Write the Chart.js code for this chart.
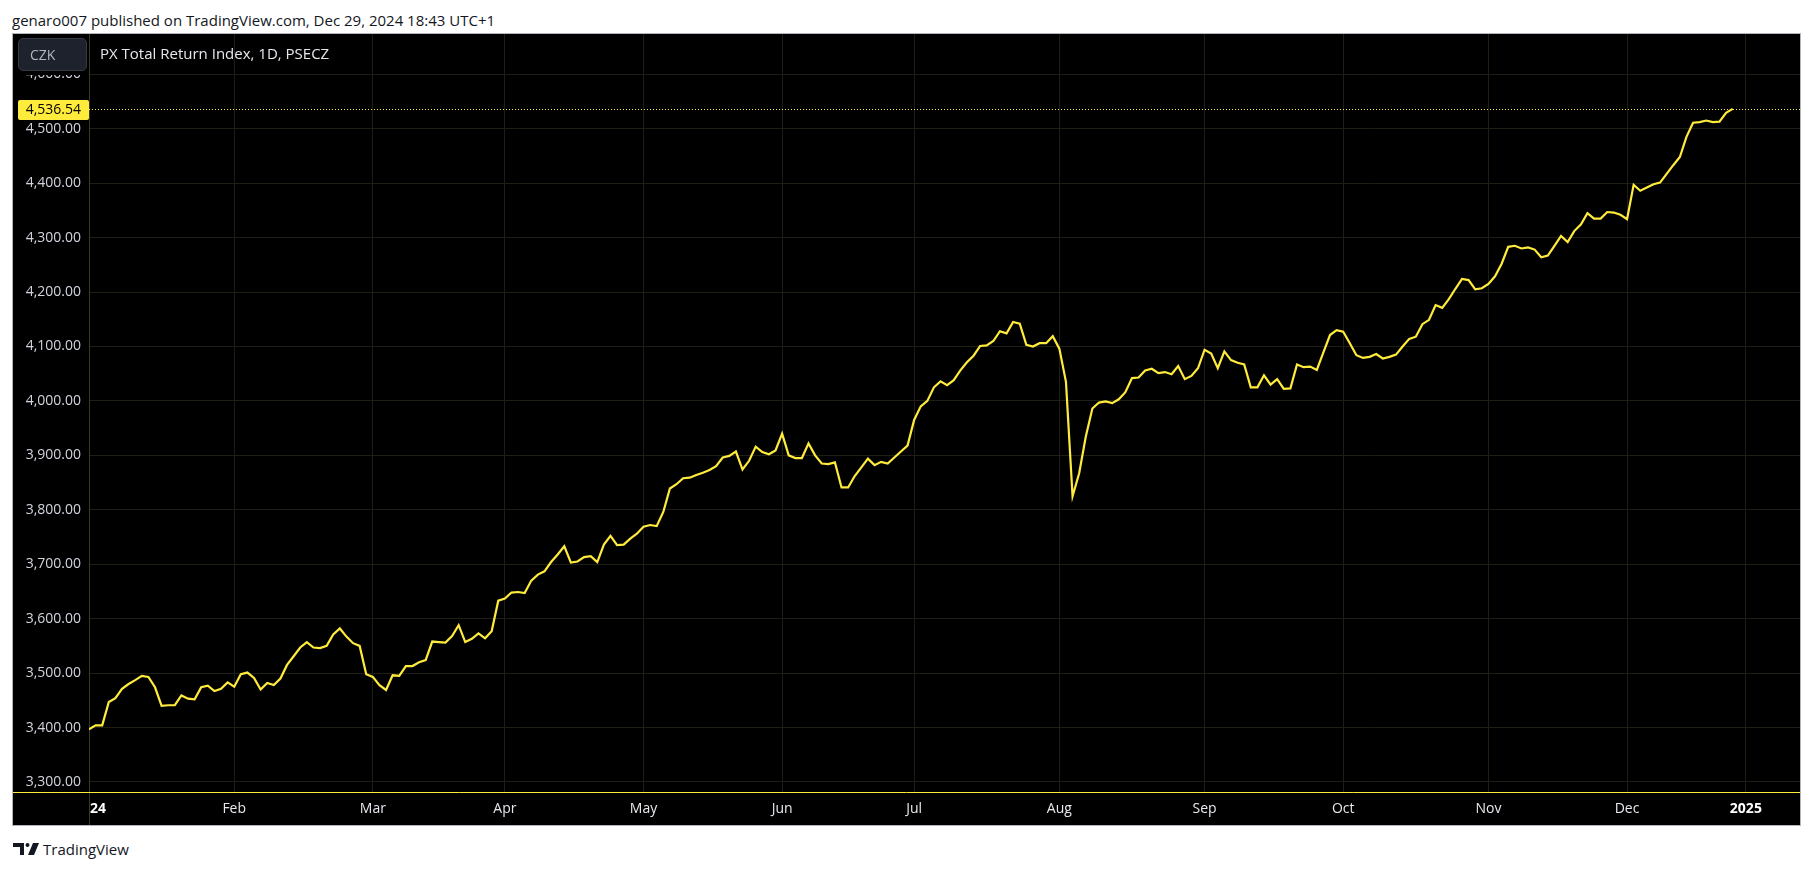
<!DOCTYPE html>
<html>
<head>
<meta charset="utf-8">
<script src="https://cdn.jsdelivr.net/npm/chart.js@4.4.1/dist/chart.umd.min.js"></script>
<style>
  html, body { margin: 0; padding: 0; background: #fff; width: 1814px; height: 870px; overflow: hidden; font-family: "Open Sans", sans-serif; }
  #header { position: absolute; left: 12px; top: 10px; font-size: 15px; color: #131722; white-space: nowrap; }
  #frame { position: absolute; left: 12px; top: 33px; width: 1787px; height: 791px; border: 1px solid #b2b5be; background: #000; }
  #frame canvas { position: absolute; left: 0; top: 0; }
  #legendBack { position: absolute; left: 0; top: 0; width: 76px; height: 41px; background: #000; }
  #czk { position: absolute; left: 5px; top: 4px; width: 69px; height: 33px; box-sizing: border-box; background: #1e222d; border: 1px solid #363a45; border-radius: 5px; color: #b2b5be; font-size: 14px; line-height: 31px; padding-left: 11px; }
  #title { position: absolute; left: 87px; top: 9px; color: #e6e8ee; font-size: 15px; white-space: nowrap; }
  #footer { position: absolute; left: 13px; top: 839px; height: 20px; display: flex; align-items: center; color: #131722; font-size: 15px; }
  #footer svg { margin-right: 4px; }
</style>
</head>
<body>
<div id="header">genaro007 published on TradingView.com, Dec 29, 2024 18:43 UTC+1</div>
<div id="frame">
  <canvas id="pxChart" width="1787" height="791"></canvas>
  <div id="legendBack"></div>
  <div id="czk">CZK</div>
  <div id="title">PX Total Return Index, 1D, PSECZ</div>
</div>
<div id="footer">
  <svg width="26" height="12" viewBox="0 0 26 12"><path d="M0 0h11v12h-4v-8h-7z" fill="#131722"/><circle cx="14.5" cy="2" r="2" fill="#131722"/><path d="M20 0h6l-5 12h-6z" fill="#131722"/></svg>
  <span>TradingView</span>
</div>
<script>
// daily closes, one per trading day from 2 Jan 2024 to 27 Dec 2024
const closes = [
  3397, 3404, 3404, 3447, 3454, 3471, 3480, 3487, 3495, 3493,
  3474, 3440, 3441, 3441, 3459, 3453, 3452, 3474, 3477, 3467,
  3471, 3483, 3475, 3498, 3501, 3491, 3470, 3482, 3478, 3490,
  3515, 3531, 3547, 3557, 3547, 3546, 3550, 3571, 3582, 3567,
  3555, 3550, 3498, 3493, 3478, 3469, 3496, 3495, 3513, 3513,
  3520, 3524, 3558, 3557, 3556, 3568, 3588, 3557, 3563, 3573,
  3564, 3577, 3633, 3637, 3648, 3649, 3647, 3670, 3681, 3687,
  3704, 3718, 3733, 3703, 3705, 3713, 3715, 3704, 3736, 3752,
  3735, 3736, 3747, 3756, 3769, 3772, 3770, 3796, 3839, 3847,
  3858, 3859, 3864, 3868, 3873, 3880, 3896, 3899, 3907, 3874,
  3890, 3916, 3906, 3902, 3909, 3940, 3900, 3895, 3895, 3922,
  3900, 3885, 3884, 3887, 3841, 3841, 3862, 3878, 3894, 3882,
  3888, 3885, 3896, 3907, 3918, 3965, 3990, 4000, 4025, 4036,
  4029, 4038, 4056, 4071, 4083, 4101, 4102, 4110, 4128, 4124,
  4145, 4142, 4103, 4100, 4106, 4106, 4119, 4096, 4035, 3825,
  3867, 3934, 3986, 3997, 3999, 3996, 4003, 4016, 4042, 4043,
  4056, 4059, 4051, 4053, 4049, 4064, 4040, 4046, 4060, 4094,
  4087, 4060, 4091, 4075, 4070, 4067, 4025, 4025, 4047, 4030,
  4040, 4022, 4023, 4067, 4062, 4063, 4057, 4089, 4121, 4130,
  4127, 4106, 4084, 4079, 4081, 4086, 4078, 4081, 4085, 4100,
  4114, 4118, 4141, 4149, 4176, 4171, 4187, 4206, 4224, 4222,
  4205, 4207, 4215, 4229, 4252, 4283, 4285, 4280, 4282, 4278,
  4264, 4267, 4285, 4303, 4292, 4312, 4324, 4345, 4335, 4335,
  4347, 4346, 4342, 4334, 4397, 4386, 4392, 4398, 4401, 4417,
  4433, 4448, 4485, 4511, 4512, 4515, 4512, 4513, 4529, 4536.54
];

// first trading day of each month, as a bar number
const monthStarts = [0, 22, 43, 63, 84, 105, 125, 147, 169, 190, 212, 233, 251];
const monthLabels = ['24', 'Feb', 'Mar', 'Apr', 'May', 'Jun', 'Jul', 'Aug', 'Sep', 'Oct', 'Nov', 'Dec', '2025'];
const boldLabels = ['24', '2025'];

const yTicks = [3300, 3400, 3500, 3600, 3700, 3800, 3900, 4000, 4100, 4200, 4300, 4400, 4500, 4600];

const lineYellow = '#ffeb3b';
const gridColor = '#1e1e14';
const sepColor = '#3a381e';
const fmt = v => v.toLocaleString('en-US', { minimumFractionDigits: 2, maximumFractionDigits: 2 });

// price marker, time axis line and month labels drawn on top of the library scales
const tvOverlay = {
  id: 'tvOverlay',
  beforeDatasetsDraw(chart) {
    const { ctx, chartArea, scales } = chart;
    const py = Math.round(scales.y.getPixelForValue(closes[closes.length - 1])) + 0.5;
    ctx.save();
    ctx.strokeStyle = lineYellow;
    ctx.lineWidth = 1;
    ctx.setLineDash([1, 2]);
    ctx.beginPath();
    ctx.moveTo(chartArea.left, py);
    ctx.lineTo(chartArea.right, py);
    ctx.stroke();
    ctx.restore();
  },
  afterDraw(chart) {
    const { ctx, chartArea, scales, width, height } = chart;
    const last = closes[closes.length - 1];
    const py = Math.round(scales.y.getPixelForValue(last));
    ctx.save();

    // time axis separator line
    ctx.strokeStyle = lineYellow;
    ctx.lineWidth = 1;
    ctx.beginPath();
    ctx.moveTo(0, chartArea.bottom + 0.5);
    ctx.lineTo(width, chartArea.bottom + 0.5);
    ctx.stroke();

    // price-axis separator down through the time axis
    ctx.strokeStyle = sepColor;
    ctx.beginPath();
    ctx.moveTo(chartArea.left + 0.5, chartArea.bottom + 1);
    ctx.lineTo(chartArea.left + 0.5, height);
    ctx.stroke();

    // month labels
    ctx.textBaseline = 'middle';
    monthStarts.forEach((b, i) => {
      const x = scales.x.getPixelForValue(b);
      const lab = monthLabels[i];
      const bold = boldLabels.includes(lab);
      ctx.font = (bold ? 'bold ' : '') + '14px "Open Sans", sans-serif';
      ctx.fillStyle = bold ? '#ffffff' : '#e6e8ee';
      ctx.textAlign = i === 0 ? 'left' : 'center';
      ctx.fillText(lab, i === 0 ? x + 1 : x, chartArea.bottom + 17);
    });

    // last price badge
    ctx.fillStyle = lineYellow;
    ctx.beginPath();
    ctx.roundRect(5, py - 9, chartArea.left - 5, 20, 2);
    ctx.fill();
    ctx.fillStyle = '#000';
    ctx.font = '14px "Open Sans", sans-serif';
    ctx.textAlign = 'right';
    ctx.fillText(fmt(last), chartArea.left - 8, py + 1);
    ctx.restore();
  }
};

const ctx = document.getElementById('pxChart').getContext('2d');
new Chart(ctx, {
  type: 'line',
  data: {
    datasets: [{
      data: closes.map((v, i) => ({ x: i, y: v })),
      borderColor: lineYellow,
      borderWidth: 2.2,
      pointRadius: 0,
      tension: 0,
      fill: false
    }]
  },
  options: {
    responsive: false,
    animation: false,
    events: [],
    layout: { padding: 0 },
    plugins: { legend: { display: false }, tooltip: { enabled: false } },
    scales: {
      x: {
        type: 'linear',
        position: 'bottom',
        min: 0,
        max: 259.2,
        afterFit: s => { s.height = 33; s.paddingLeft = 0; s.paddingRight = 0; },
        afterBuildTicks: s => { s.ticks = monthStarts.map(v => ({ value: v })); },
        ticks: { display: false },
        grid: { color: gridColor, drawTicks: false },
        border: { display: false }
      },
      y: {
        position: 'left',
        min: 3281.6,
        max: 4674,
        afterFit: s => { s.width = 76; s.paddingTop = 0; s.paddingBottom = 0; },
        afterBuildTicks: s => { s.ticks = yTicks.map(v => ({ value: v })); },
        ticks: {
          color: '#d1d4dc',
          padding: 8,
          font: { family: '"Open Sans", sans-serif', size: 14 },
          callback: v => fmt(v)
        },
        grid: { color: gridColor, drawTicks: false },
        border: { display: true, color: sepColor, width: 1 }
      }
    }
  },
  plugins: [tvOverlay]
});
</script>
</body>
</html>
